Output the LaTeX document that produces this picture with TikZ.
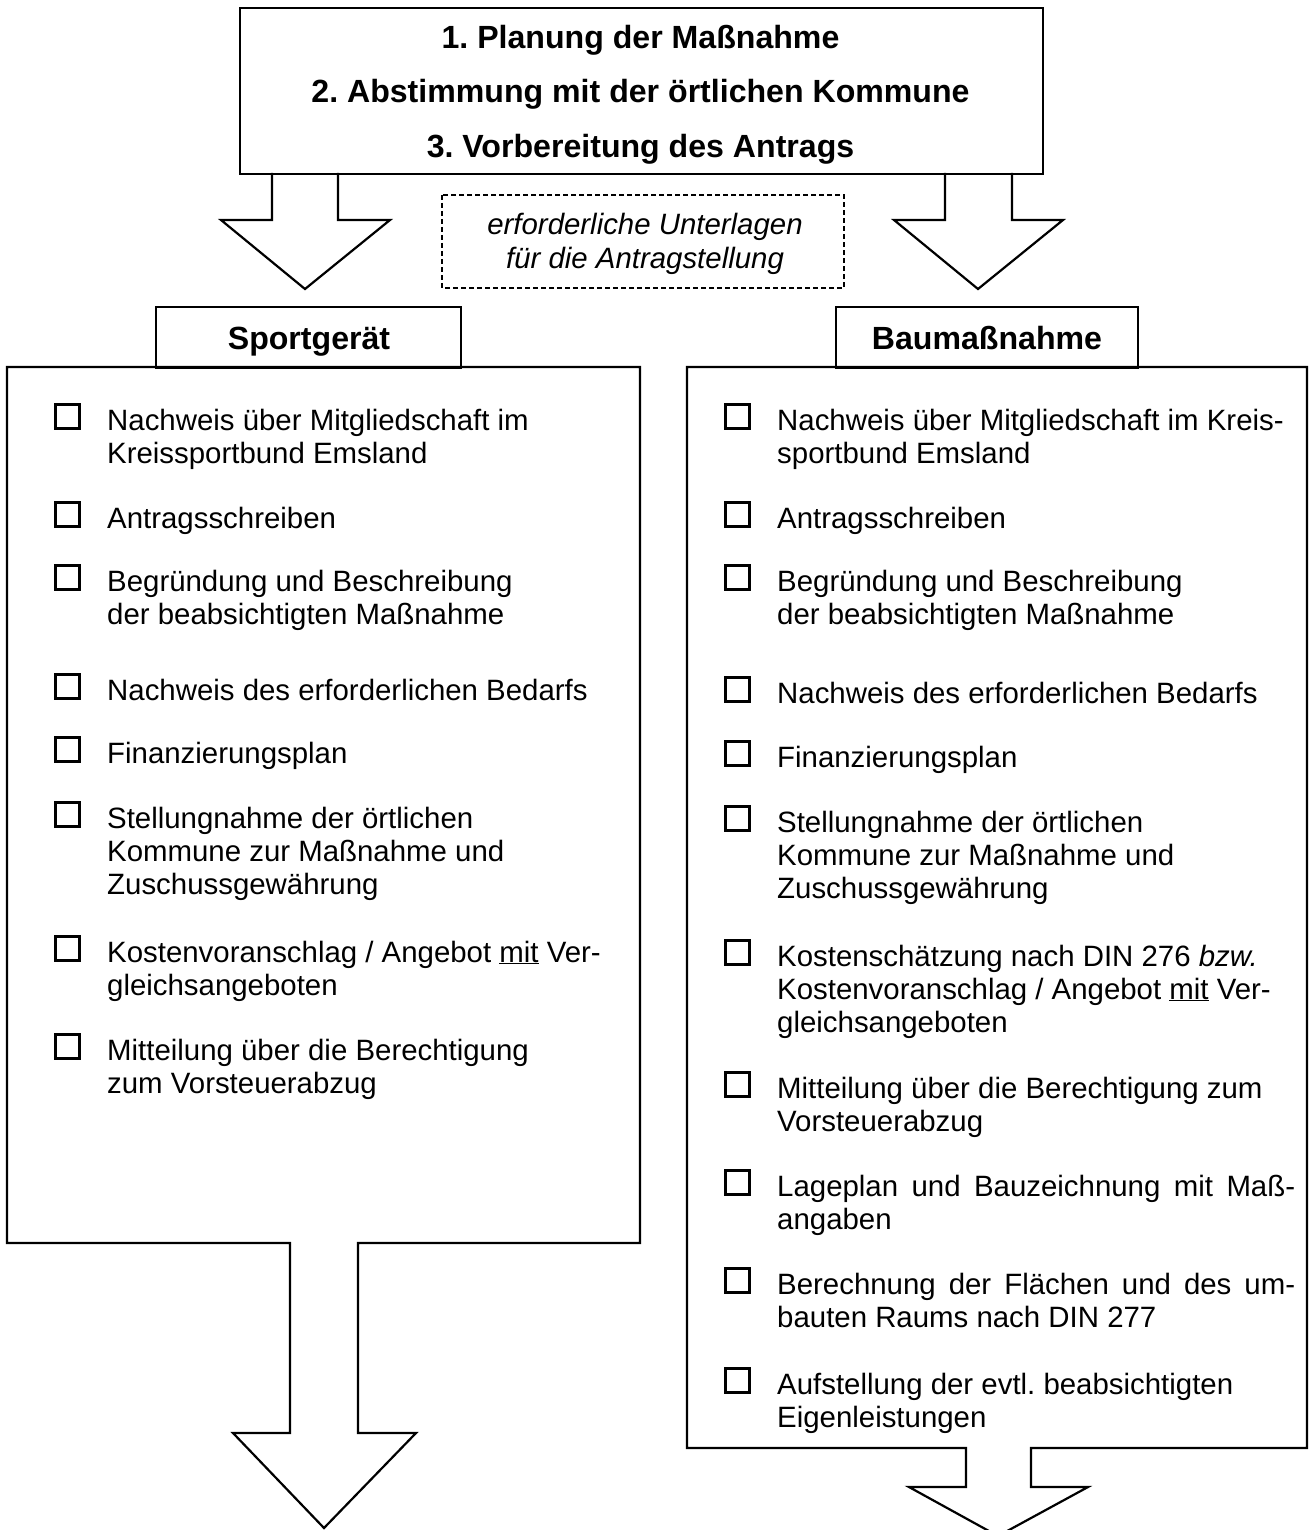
\documentclass[tikz,border=0pt]{standalone}
\usepackage{fontspec}
\setmainfont{Liberation Sans}
\frenchspacing
\newcommand\regfont{\fontsize{29.4pt}{33pt}\selectfont}
\newcommand\headfont{\fontsize{32.1pt}{38pt}\selectfont\bfseries}
\newcommand\cbitem[4]{%
  \node[chk] (#1c) at (#2-53.5,#3+2.5) {};
  \node[itemtxt] (#1) at (#2,#3+3) {\begin{tabular}[t]{@{}l@{}}#4\end{tabular}};
}
\begin{document}
\frenchspacing
\begin{tikzpicture}[x=1pt,y=-1pt,line join=miter,
  outline/.style={draw,line width=2.2pt},
  chk/.style={draw,line width=3pt,minimum size=24pt,inner sep=0pt,anchor=south west},
  itemtxt/.style={anchor=base west,inner sep=0pt,font=\regfont},
  head/.style={anchor=base,inner sep=0pt,font=\headfont},
  tabbox/.style={outline,anchor=north west,inner sep=0pt}]
\useasboundingbox (0,0) rectangle (1309,1530);
\clip (0,0) rectangle (1309,1530);

% top box
\node[tabbox,minimum width=803pt,minimum height=166pt] (top) at (239,7) {};
\node[head] (t1) at (640.5,49) {1. Planung der Maßnahme};
\node[head] (t2) at (640.5,103) {2. Abstimmung mit der örtlichen Kommune};
\node[head] (t3) at (640.5,158) {3. Vorbereitung des Antrags};

% arrows from top box
\draw[outline] (272,173) -- (272,220) -- (221,220) -- (305,289) -- (390,220) -- (338,220) -- (338,173);
\draw[outline] (945,173) -- (945,220) -- (894,220) -- (978,289) -- (1063,220) -- (1012,220) -- (1012,173);

% dashed note
\draw[line width=1.4pt,dash pattern=on 5pt off 3pt] (442,195) rectangle (844,288);
\node[anchor=base,inner sep=0pt,font=\regfont\itshape] (n1) at (645,235) {erforderliche Unterlagen};
\node[anchor=base,inner sep=0pt,font=\regfont\itshape] (n2) at (645,269) {für die Antragstellung};

% left column
\node[tabbox,minimum width=305pt,minimum height=61pt] (tabL) at (155,306) {};
\node[head] (tabLt) at (309,349) {Sportgerät};
\draw[outline] (7,367) -- (640,367) -- (640,1243) -- (358,1243) -- (358,1433) -- (416,1433)
  -- (324,1528) -- (233,1433) -- (290,1433) -- (290,1243) -- (7,1243) -- cycle;

\cbitem{L1}{107}{427}{Nachweis über Mitgliedschaft im\\Kreissportbund Emsland}
\cbitem{L2}{107}{525}{Antragsschreiben}
\cbitem{L3}{107}{588}{Begründung und Beschreibung\\ der beabsichtigten Maßnahme}
\cbitem{L4}{107}{697}{Nachweis des erforderlichen Bedarfs}
\cbitem{L5}{107}{760}{Finanzierungsplan}
\cbitem{L6}{107}{825}{Stellungnahme der örtlichen\\Kommune zur Maßnahme und\\Zuschussgewährung}
\cbitem{L7}{107}{959}{Kostenvoranschlag / Angebot \underline{mit} Ver-\\gleichsangeboten}
\cbitem{L8}{107}{1057}{Mitteilung über die Berechtigung\\ zum Vorsteuerabzug}

% right column
\node[tabbox,minimum width=302pt,minimum height=61pt] (tabR) at (835,306) {};
\node[head] (tabRt) at (987,349) {Baumaßnahme};
\draw[outline] (687,367) -- (1307,367) -- (1307,1448) -- (1031,1448) -- (1031,1487) -- (1088,1487)
  -- (998,1536) -- (909,1487) -- (966,1487) -- (966,1448) -- (687,1448) -- cycle;

\cbitem{R1}{777}{427}{Nachweis über Mitgliedschaft im Kreis-\\sportbund Emsland}
\cbitem{R2}{777}{525}{Antragsschreiben}
\cbitem{R3}{777}{588}{Begründung und Beschreibung\\ der beabsichtigten Maßnahme}
\cbitem{R4}{777}{700}{Nachweis des erforderlichen Bedarfs}
\cbitem{R5}{777}{764}{Finanzierungsplan}
\cbitem{R6}{777}{829}{Stellungnahme der örtlichen\\Kommune zur Maßnahme und\\Zuschussgewährung}
\cbitem{R7}{777}{963}{Kostenschätzung nach DIN 276 \textit{bzw.}\\Kostenvoranschlag / Angebot \underline{mit} Ver-\\gleichsangeboten}
\cbitem{R8}{777}{1095}{Mitteilung über die Berechtigung zum\\Vorsteuerabzug}
\cbitem{R9}{777}{1193}{\makebox[518pt][s]{Lageplan und Bauzeichnung mit Maß-}\\angaben}
\cbitem{R10}{777}{1291}{\makebox[518pt][s]{Berechnung der Flächen und des um-}\\bauten Raums nach DIN 277}
\cbitem{R11}{777}{1391}{Aufstellung der evtl. beabsichtigten\\Eigenleistungen}
\end{tikzpicture}
\end{document}
